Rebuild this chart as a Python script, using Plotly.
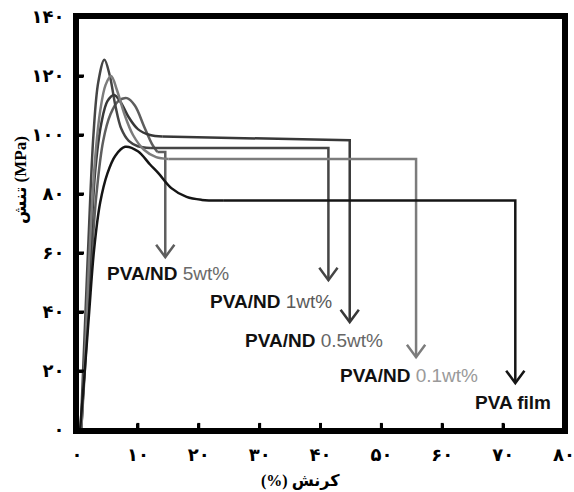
import plotly.graph_objects as go

# ---------------- data ----------------
samples = ["PVA/ND 5wt%", "PVA/ND 1wt%", "PVA/ND 0.5wt%", "PVA/ND 0.1wt%", "PVA film"]

strain_5 = [0.7, 1.4, 2.2, 3.2, 4.3, 5.5, 6.8, 8.2, 9.5, 11.0, 12.3, 13.2]
stress_5 = [0, 24, 52, 80, 98, 107, 111.5, 112.5, 110, 103, 97, 94.2]

strain_1 = [0.6, 1.2, 1.9, 2.7, 3.5, 4.5, 5.4, 6.3, 7.3, 8.5, 10.0, 12.0]
stress_1 = [0, 30, 65, 100, 118, 125.5, 120, 110, 102, 98, 96.2, 95.6]

strain_05 = [0.7, 1.4, 2.2, 3.0, 4.0, 5.0, 6.1, 7.2, 8.5, 10.0, 12.0, 14.0]
stress_05 = [0, 28, 60, 88, 104, 111.5, 113.6, 111, 106, 102, 100, 99.5]

strain_01 = [0.7, 1.3, 2.0, 2.9, 3.8, 4.7, 5.6, 6.6, 7.8, 9.2, 11.0, 13.0, 15.0]
stress_01 = [0, 25, 58, 90, 108, 117, 120, 115, 107, 100, 95, 92.5, 91.9]

strain_pva = [0.5, 1.2, 2.0, 2.8, 3.8, 5.0, 6.3, 7.9, 10.0, 12.0, 13.4, 15.5, 18.0, 20.5, 24.0]
stress_pva = [0, 18, 40, 61, 77, 87, 93, 96, 94.5, 90, 87, 82, 79, 78, 77.8]

# failure (end of plateau) strain / stress, and where each arrow points to
break_strain = [14.5, 41.3, 44.8, 55.7, 72.0]
break_stress = [94.2, 95.6, 98.2, 91.9, 77.8]
arrow_tip_stress = [58.6, 50.8, 36.6, 24.7, 15.9]

label_x = [14.9, 31.8, 38.9, 54.6, 71.6]
label_y = [53.2, 43.4, 30.5, 18.6, 9.2]
label_bold = ["PVA/ND", "PVA/ND", "PVA/ND", "PVA/ND", "PVA film"]
label_light = ["5wt%", "1wt%", "0.5wt%", "0.1wt%", ""]

x_tickvals = [0, 10, 20, 30, 40, 50, 60, 70, 80]
x_ticktext = ["۰", "۱۰", "۲۰", "۳۰", "۴۰", "۵۰", "۶۰", "۷۰", "۸۰"]
y_tickvals = [0, 20, 40, 60, 80, 100, 120, 140]
y_ticktext = ["۰", "۲۰", "۴۰", "۶۰", "۸۰", "۱۰۰", "۱۲۰", "۱۴۰"]

x_title = "(%) کرنش"
y_title = "تنش (MPa)"

# ---------------- style ----------------
line_colors = ["#5e5e5e", "#454545", "#383838", "#7c7c7c", "#151515"]
light_colors = ["#6a6a6a", "#5a5a5a", "#666666", "#9a9a9a", "#000000"]
LW = 2.5
ARROW_HW = 1.5
ARROW_H = 4.2
XTICK_LEN = 2.4   # inside tick length on the x axis, in stress units (~7 px)
YTICK_LEN = 1.15  # inside tick length on the y axis, in strain units (~7 px)

X_MIN, X_MAX = 0, 80
Y_MIN, Y_MAX = 0, 140

curves = [(strain_5, stress_5), (strain_1, stress_1), (strain_05, stress_05),
          (strain_01, stress_01), (strain_pva, stress_pva)]

fig = go.Figure()
for i, (sx, sy) in enumerate(curves):
    c = line_colors[i]
    fig.add_trace(go.Scatter(x=sx, y=sy, mode="lines",
                             line=dict(color=c, width=LW, shape="spline", smoothing=1.0),
                             showlegend=False, hoverinfo="skip"))
    fig.add_trace(go.Scatter(x=[sx[-1], break_strain[i], break_strain[i]],
                             y=[sy[-1], break_stress[i], arrow_tip_stress[i]],
                             mode="lines", line=dict(color=c, width=LW),
                             showlegend=False, hoverinfo="skip"))
    tx, ty = break_strain[i], arrow_tip_stress[i]
    fig.add_trace(go.Scatter(x=[tx - ARROW_HW, tx, tx + ARROW_HW],
                             y=[ty + ARROW_H, ty, ty + ARROW_H],
                             mode="lines", line=dict(color=c, width=LW),
                             showlegend=False, hoverinfo="skip"))

# inside tick marks, drawn at the axis tick values
tick_x, tick_y = [], []
for v in x_tickvals[1:-1]:
    tick_x += [v, v, None]
    tick_y += [Y_MIN, Y_MIN + XTICK_LEN, None]
for v in y_tickvals[1:-1]:
    tick_x += [X_MIN, X_MIN + YTICK_LEN, None]
    tick_y += [v, v, None]
fig.add_trace(go.Scatter(x=tick_x, y=tick_y, mode="lines",
                         line=dict(color="#000", width=3),
                         showlegend=False, hoverinfo="skip"))

for i in range(len(samples)):
    txt = "<b>" + label_bold[i] + "</b>"
    if label_light[i]:
        txt += " <span style='color:%s'>%s</span>" % (light_colors[i], label_light[i])
    fig.add_annotation(x=label_x[i], y=label_y[i], xref="x", yref="y", text=txt,
                       showarrow=False, xanchor="center", yanchor="middle",
                       font=dict(family="Liberation Sans, Arial, sans-serif", size=19, color="#111111"))

PL, PR, PT, PB = 77, 564, 17, 430
W, H = 574, 492
pw, ph = PR - PL, PB - PT

title_font = dict(family="Liberation Serif, DejaVu Sans", size=16, color="#000")
fig.add_annotation(x=(300 - PL) / pw, y=-(481 - PB) / ph, xref="paper", yref="paper",
                   text="<b>" + x_title + "</b>", showarrow=False,
                   xanchor="center", yanchor="middle", font=title_font)
fig.add_annotation(x=-(PL - 20) / pw, y=(PB - 180) / ph, xref="paper", yref="paper",
                   text="<b>" + y_title + "</b>", textangle=-90, showarrow=False,
                   xanchor="center", yanchor="middle", font=dict(title_font, size=17))

# frame
fig.add_shape(type="rect", xref="paper", yref="paper", x0=0, y0=0, x1=1, y1=1,
              line=dict(color="#000", width=4), layer="above")

tick_font = dict(family="DejaVu Sans", size=18, color="#000")

axis_common = dict(ticks="inside", ticklen=6, tickwidth=3, tickcolor="#000",
                   showline=True, linewidth=4, linecolor="#000", mirror=True,
                   showgrid=False, zeroline=False, tickfont=tick_font,
                   automargin=False, ticklabeloverflow="allow")

fig.update_layout(
    width=W, height=H,
    margin=dict(l=PL, r=W - PR, t=PT, b=H - PB),
    paper_bgcolor="white", plot_bgcolor="white",
    showlegend=False,
    xaxis=dict(range=[X_MIN, X_MAX], tickvals=x_tickvals,
               ticktext=["<b>%s</b>" % t for t in x_ticktext],
               ticklabelstandoff=5, **axis_common),
    yaxis=dict(range=[Y_MIN, Y_MAX], tickvals=y_tickvals,
               ticktext=["<b>%s</b>" % t for t in y_ticktext],
               ticklabelstandoff=5, **axis_common),
)

fig.write_html("out.html", config={"displayModeBar": False},
               post_script="document.body.style.margin='0px';")
